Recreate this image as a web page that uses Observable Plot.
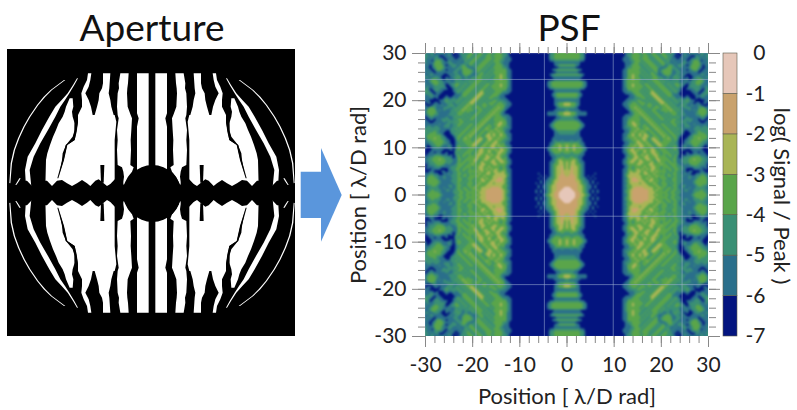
<!DOCTYPE html>
<html><head><meta charset="utf-8">
<script src="https://cdn.jsdelivr.net/npm/d3@7"></script>
<script src="https://cdn.jsdelivr.net/npm/@observablehq/plot@0.6"></script>
<style>
html,body{margin:0;padding:0;background:#fff;width:797px;height:410px;overflow:hidden}
#page{position:relative;width:797px;height:410px;font-family:Lato,sans-serif}
.title{font-size:37px;color:#111;line-height:40px;white-space:nowrap;transform:translateX(-50%)}
.lab{font-size:22px;color:#222;line-height:24px;white-space:nowrap}
</style></head><body><div id="page"></div>
<script>
// ---------- Aperture mask: one quadrant, rows are [row, left, right] in mask units
const stripeInner = [[70,10,45],[190,10,45],[205,10,40],[230,10,45],[429,10,45]];
const stripeSecond = [[70,70,95],[100,72,100],[115,74,99],[130,75,103],[170,73,105],[195,64,103],[205,60,100],[240,62,105],[270,64,103],[300,63,105],[345,65,103],[352,55,90],[365,60,86],[380,72,84],[395,80,86],[404,84,86]];
const stripeThird = [[70,125,147],[100,127,147],[115,128,150],[130,130,158],[150,125,160],[170,122,165],[195,115,172],[205,110,180]];
const stripeFourth = [[70,182,192],[90,185,195],[110,190,205],[130,200,212],[150,190,210],[170,183,210],[195,178,222],[205,175,222]];
const lobe = [[195,112,222],[215,107,222],[270,112,232],[285,112,255],[330,112,265],[385,112,282],[410,112,282]];
const stripeFifth = [[145,238,247],[170,236,258],[185,240,262],[200,238,268],[220,232,280],[240,232,288],[260,238,297],[285,258,306],[310,268,314],[330,270,318],[410,285,320]];
const stripeSixth = [[85,222,225],[105,233,237],[130,248,253],[150,261,271],[170,275,290],[200,290,308],[240,312,330],[280,335,350],[320,355,373],[360,367,381],[410,362,378]];
const stripeOuter = [[90,260,264],[105,280,284],[120,300,304],[140,320,325],[165,341,345],[200,365,369],[230,382,386],[265,398,402],[300,411,415],[340,420,424],[400,425,428]];
const stripeFragment = [[385,394,398],[405,406,410]];
const blackStroke = [[345,143,155],[398,145,153]];
const blackVein = [[215,222,232],[245,226,233],[270,232,238],[285,254,259],[330,264,269],[385,281,284]];
// lower edge of the white area: [x, row], scalloped
const scallops = [[0,404],[88,404],[96,386],[110,386],[125,402],[135,408],[145,400],[160,388],[170,392],[185,408],[195,400],[210,390],[225,400],[240,408],[255,400],[270,390],[285,392],[300,408],[315,392],[335,392],[360,408],[375,392],[395,392],[410,408],[432,398]];
const midRow = 429;

// ---------- PSF: upper right quadrant, digit d = band -d..-(d-1) of log(Signal/Peak).
// Columns: x = 0 .. 30 in steps of 0.5; rows: y = 30 .. 0 in steps of 0.5.
const psfRows = [
"44444455777777 777777777776 55444 54455 44554 45555 67765 66556 65565",
"44444455777777 777777777776 55444 45445 54455 44556 76765 66775 65655",
"44444455777777 777777777766 65444 54445 55445 54556 67656 67665 56565",
"55555566777777 777777777766 65544 45444 55544 55465 66665 76544 57665",
"66666677777777 777777777776 66544 54544 45554 45566 56655 66544 46665",
"44445677777777 777777777776 65444 55454 44555 46545 65556 76444 46756",
"66667777777777 777777777776 55444 45545 44456 65445 56566 65444 56766",
"44444567777777 777777777766 44444 54554 54465 44446 55666 76544 67665",
"66666777777777 777777777766 44444 45455 45465 44446 65566 66666 76656",
"44444456777777 777777777766 44344 54545 44566 54456 55656 77666 65566",
"66666667777777 777777777766 44344 55454 54455 66565 45567 67765 56655",
"66666677777777 777777777765 44344 45545 44454 55565 54666 57655 44566",
"44444445677777 777777777765 44444 54554 54445 45555 55665 66554 44566",
"44444445677777 777777777765 44344 45445 45444 55455 44556 76554 45665",
"44444445677777 777777777765 44344 44544 54544 45545 54567 75555 56656",
"55555566777777 777777777766 44444 45454 45454 44554 55677 66655 56755",
"66666677777777 777777777766 55444 54545 34545 44455 45677 77665 67654",
"44444567777777 777777777776 66544 45454 33454 54446 56777 77766 76555",
"44444567777777 777777777777 76654 44545 43345 45445 66677 67776 65566",
"55555677777777 777777777777 66655 54454 54334 54554 56566 56776 76666",
"66666677777777 777777777776 65554 45545 45433 45455 45555 45667 77766",
"33445677777777 777777777766 55445 44454 54543 34545 54655 56676 67667",
"33445677777777 777777777766 54444 54544 45454 43454 56545 66566 56776",
"55556777777777 777777777776 64434 45454 54445 44345 45565 55666 54466",
"56666677777777 777777777777 65443 44545 44554 44434 54556 65656 44446",
"33445666677777 777777777777 76544 34454 54455 54544 45556 66665 44446",
"33445666677777 777777777776 66544 43445 45445 45454 45555 66665 54456",
"55566777777777 777777777766 55444 54344 54544 54545 54566 56666 65567",
"55556677777777 777777777766 54444 45434 45454 45454 45565 55566 76676",
"44444567777777 777777777766 44344 54543 44545 54544 54555 65666 67766",
"44444456777777 777777777766 44334 45454 34454 45454 45565 56656 66666",
"44444456777777 777777777765 54434 54445 43445 44545 45565 55665 56556",
"44444567777777 777777777766 55443 45434 54344 54454 54556 66655 55555",
"55555677777777 777777777776 64434 43454 45434 45445 45557 76665 45554",
"55556677777777 777777777766 54344 34345 44543 44544 54567 77655 44455",
"66666677777777 777777777766 44344 34334 54454 34454 45677 76544 44445",
"66666667777777 777777777765 54434 43345 33445 44345 45777 65544 34446",
"66566567777777 777777777766 55443 44345 43345 44445 46776 65444 44556",
"44544566777777 777777777776 64543 34434 54334 44454 56776 55444 45566",
"34434456777777 777777777766 54434 33443 45433 44545 46765 66544 55676",
"34434445677777 777777777765 44344 33444 34544 45454 45765 66655 56776",
"34434445677777 777777777765 43343 44344 33454 44545 45767 77666 66777",
"44544456777777 777777777766 44334 54344 33445 44454 54777 67766 76677",
"55555566777777 777777777776 54434 43434 43345 45445 45767 66655 56667",
"55455667777777 777777777776 45433 44334 44344 44545 46765 55444 45566",
"44434567777777 777777777766 44334 34433 45334 44454 46655 54434 44556",
"34334566777777 777777777765 43344 33444 34534 45445 46655 54444 45566",
"34334456777777 777777777766 44443 34443 34443 44544 45665 65444 55567",
"34233456777777 777777777776 54544 44344 33445 44454 45556 66655 56667",
"34233456777777 777777777766 44543 43434 33445 45445 44556 77766 66767",
"33233456777777 777777777766 43443 34344 34344 44545 45566 76677 76677",
"33233456777767 777777777765 43333 44334 43445 45454 45565 66776 65566",
"32223456767677 777777777765 33333 34443 44344 45445 45556 65665 54456",
"22223455676767 777777777766 43223 34434 34454 44554 45566 65665 44446",
"22223345667677 777777777765 43222 33443 34445 45454 45556 66654 44446",
"22222345567676 777777777766 43333 43344 43454 44545 45566 66654 44446",
"22222334566767 777777777765 44333 33334 44345 44554 45655 66665 44556",
"11222334566767 777777777766 44322 22333 34434 45445 45656 65665 55566",
"11122334567676 777777777765 43222 22223 34344 54454 45565 56655 54556",
"11112234567676 777777777765 43222 22223 33444 44544 54566 66654 44456",
"11112233456767 777777777766 43222 22223 34344 54454 45666 66544 44446"
];
const levels = [-7,-6,-5,-4,-3,-2,-1];
const bandColors = ["#03147f","#2a6f8b","#3a8f74","#5aa54a","#a9b556","#c9a26d","#e6c7b9"];
const axisTicks = [-30,-20,-10,0,10,20,30];
const minorTicks = d3.range(-30,31,2);
const barTicks = [0,-1,-2,-3,-4,-5,-6,-7];
const gridX = [-19.3,-4.8,9.8,24.4];
const gridY = [24.5,10,-4.5,-19];
const arrowShaft = [[300.7,171.7,218],[321,171.7,218]];
const arrowHead = [[321,148,241.7],[341.7,195,195]];
const blue = "#5a96dc";

// ---------- build tables
const mirrored = (rows,id)=>[1,-1].flatMap(sx=>[1,-1].flatMap(sy=>
  rows.map(([r,a,b])=>({id:`${id}${sx}${sy}`, y:sy*(midRow-r), x1:sx*a, x2:sx*b}))));
const whites = [stripeInner,stripeSecond,stripeThird,stripeFourth,lobe,stripeFifth,stripeSixth,stripeOuter,stripeFragment]
  .flatMap((r,i)=>mirrored(r,"w"+i));
const blacks = [blackStroke,blackVein].flatMap((r,i)=>mirrored(r,"k"+i));
const band = [1,-1].flatMap(sx=>[1,-1].flatMap(sy=>scallops.map(([x,r])=>({id:`${sx}${sy}`,x:sx*x,y1:sy*(midRow-r),y2:0}))));

const digits = psfRows.map(r=>[...r.replace(/ /g,"").padEnd(61,"5").slice(0,61)].map(Number));
const fullRows = digits.concat(digits.slice(0,-1).reverse());
const psfValues = fullRows.flatMap(r=>[...r.slice(1).reverse(),...r]).map(d=>0.5-d);

const page = document.getElementById("page");
const place = (node,left,top)=>{node.style.position="absolute";node.style.left=left+"px";node.style.top=top+"px";page.appendChild(node);return node;};
const font = {fontFamily:"Lato, sans-serif",fontSize:"21px",color:"#222",background:"transparent",overflow:"visible"};

// aperture panel
place(Plot.plot({
  width:288,height:287,margin:0,
  x:{domain:[-435,429],axis:null},y:{domain:[-429,432],axis:null},
  style:{background:"#000"},
  marks:[
    Plot.areaX(whites,{x1:"x1",x2:"x2",y:"y",z:"id",fill:"#fff",curve:"linear"}),
    Plot.areaY(band,{x:"x",y1:"y1",y2:"y2",z:"id",fill:"#000",curve:"linear"}),
    Plot.areaX(blacks,{x1:"x1",x2:"x2",y:"y",z:"id",fill:"#000"}),
    Plot.dot([[0,0]],{x:d=>d[0],y:d=>d[1],r:28.5,fill:"#000"})
  ]
}),7,49);

// arrow
place(Plot.plot({
  width:50,height:100,margin:0,
  x:{domain:[298,348],axis:null},y:{domain:[245,145],axis:null},
  style:{background:"transparent"},
  marks:[
    Plot.areaY(arrowShaft,{x:d=>d[0],y1:d=>d[1],y2:d=>d[2],fill:blue}),
    Plot.areaY(arrowHead,{x:d=>d[0],y1:d=>d[1],y2:d=>d[2],fill:blue})
  ]
}),298,145);

// PSF panel
const tick = {stroke:"#888"};
place(Plot.plot({
  width:382,height:374,marginLeft:85,marginRight:14,marginTop:17,marginBottom:74,
  style:font,
  x:{domain:[-30,30]},y:{domain:[-30,30]},
  color:{type:"threshold",domain:levels.slice(1),range:bandColors},
  marks:[
    Plot.contour(psfValues,{width:121,height:121,x1:-30.25,x2:30.25,y1:30.25,y2:-30.25,value:Plot.identity,thresholds:levels,fill:"value",clip:true,imageFilter:"blur(0.8px)"}),
    Plot.ruleX(gridX,{stroke:"#9fb0d4",strokeOpacity:0.55}),
    Plot.ruleY(gridY,{stroke:"#9fb0d4",strokeOpacity:0.55}),
    Plot.axisX(minorTicks,{anchor:"bottom",tickSize:7,fill:"none",label:null,...tick}),
    Plot.axisX(minorTicks,{anchor:"top",tickSize:7,fill:"none",label:null,...tick}),
    Plot.axisY(minorTicks,{anchor:"left",tickSize:7,fill:"none",label:null,...tick}),
    Plot.axisY(minorTicks,{anchor:"right",tickSize:7,fill:"none",label:null,...tick}),
    Plot.axisX(axisTicks,{anchor:"top",tickSize:11,fill:"none",label:null,...tick}),
    Plot.axisY(axisTicks,{anchor:"right",tickSize:11,fill:"none",label:null,...tick}),
    Plot.axisX(axisTicks,{anchor:"bottom",tickSize:11,tickPadding:10,tickFormat:d=>String(d),label:null,fill:"#222",...tick}),
    Plot.axisY(axisTicks,{anchor:"left",tickSize:13,tickPadding:6,tickFormat:d=>String(d),label:null,fill:"#222",...tick})
  ]
}),340,36);

// colour bar
place(Plot.plot({
  width:75,height:374,marginLeft:1,marginRight:60,marginTop:17,marginBottom:74,
  style:font,
  x:{domain:[0,1],axis:null},y:{domain:[-7,0]},
  color:{type:"threshold",domain:levels.slice(1),range:bandColors},
  marks:[
    Plot.rect(levels,{x1:0,x2:1,y1:d=>d,y2:d=>d+1,fill:d=>d,stroke:"#5a5a4a",strokeWidth:0.6}),
    Plot.axisY(barTicks,{anchor:"right",tickSize:0,tickPadding:28,textAnchor:"end",tickFormat:d=>String(d),label:null,color:"#222"})
  ]
}),722,36);

// titles and axis titles
for (const [t,x,y] of [["Aperture",152,7],["PSF",569,7]]) {
  const d=document.createElement("div");d.className="title";d.textContent=t;place(d,x,y);
}
for (const [t,x,y,rot] of [["Position [ λ/D rad]",567,396,0],["Position [ λ/D rad]",358,195,-90],["log( Signal / Peak )",782,196,90]]) {
  const d=document.createElement("div");d.className="lab";d.textContent=t;place(d,x,y);
  d.style.transform=`translate(-50%,-50%) rotate(${rot}deg)`;
}
</script></body></html>
